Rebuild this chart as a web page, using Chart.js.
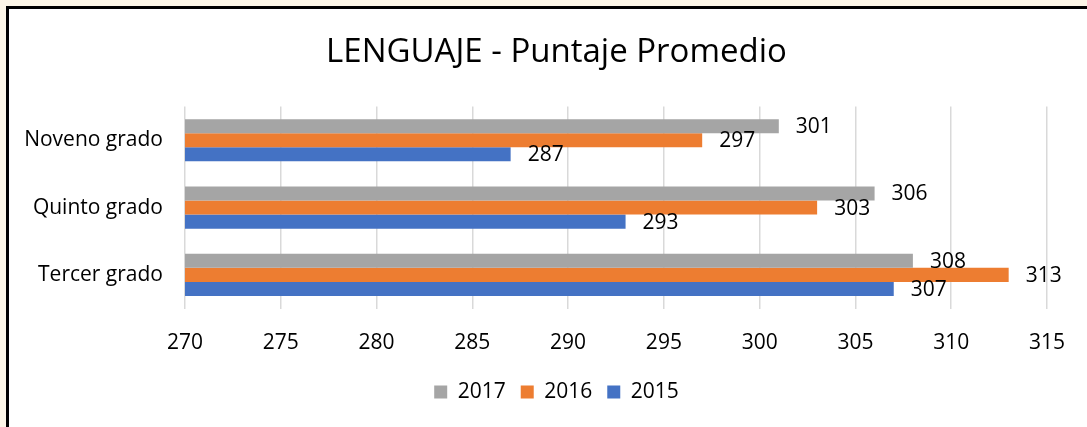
<!DOCTYPE html>
<html>
<head>
<meta charset="utf-8">
<script src="https://cdn.jsdelivr.net/npm/chart.js@4"></script>
<style>
  html, body { margin: 0; padding: 0; background: #fdf6e7; }
  #frame {
    position: absolute; left: 6px; top: 6px; width: 1081px; height: 421px;
    border-left: 3px solid #000; border-top: 3px solid #000; background: #fff;
    box-sizing: border-box;
  }
  #wrap { position: absolute; left: 0; top: 0; width: 1078px; height: 418px; }
</style>
</head>
<body>
<div id="frame"><div id="wrap"><canvas id="lenguaje"></canvas></div></div>
<script>
const grados = ['Noveno grado', 'Quinto grado', 'Tercer grado'];
const anios = ['2017', '2016', '2015'];
const puntaje2017 = [301, 306, 308];
const puntaje2016 = [297, 303, 313];
const puntaje2015 = [287, 293, 307];
const colores = ['rgb(165, 165, 165)', 'rgb(237, 125, 49)', 'rgb(68, 114, 196)'];

const fuente = "'Open Sans', sans-serif";

// valores al final de cada barra
const etiquetasValor = {
    id: 'etiquetasValor',
    afterDatasetsDraw(chart) {
        const ctx = chart.ctx;
        ctx.save();
        ctx.font = '21px ' + fuente;
        ctx.fillStyle = '#000';
        ctx.textAlign = 'left';
        ctx.textBaseline = 'middle';
        chart.data.datasets.forEach((ds, i) => {
            chart.getDatasetMeta(i).data.forEach((bar, j) => {
                ctx.fillText(ds.data[j], bar.x + 17, bar.y + 1);
            });
        });
        ctx.restore();
    }
};

const ctxLenguaje = document.getElementById('lenguaje');

const dataLenguaje = {
    labels: grados,
    datasets: [
        { label: anios[0], data: puntaje2017, backgroundColor: colores[0] },
        { label: anios[1], data: puntaje2016, backgroundColor: colores[1] },
        { label: anios[2], data: puntaje2015, backgroundColor: colores[2] }
    ]
};

const configLenguaje = {
    type: 'bar',
    data: dataLenguaje,
    plugins: [etiquetasValor],
    options: {
        indexAxis: 'y',
        responsive: true,
        maintainAspectRatio: false,
        animation: false,
        categoryPercentage: 0.627,
        barPercentage: 1,
        layout: { padding: { left: 17, right: 0, top: 0, bottom: 14.5 } },
        plugins: {
            title: {
                display: true,
                text: 'LENGUAJE - Puntaje Promedio',
                color: '#000',
                font: { family: fuente, size: 33, weight: 'normal' },
                padding: { top: 24, bottom: 34 }
            },
            legend: {
                position: 'bottom',
                labels: {
                    color: '#000',
                    boxWidth: 13,
                    boxHeight: 13,
                    padding: 15,
                    font: { family: fuente, size: 21 }
                }
            },
            tooltip: { enabled: false }
        },
        scales: {
            x: {
                min: 270,
                max: 315,
                ticks: { stepSize: 5, color: '#000', padding: 22, font: { family: fuente, size: 21 } },
                grid: { color: '#d9d9d9', lineWidth: 1.5, drawTicks: false },
                border: { display: false },
                afterFit(axis) { axis.height = 58; }
            },
            y: {
                ticks: { color: '#000', padding: 14, font: { family: fuente, size: 21 } },
                grid: { display: false },
                border: { display: false },
                afterFit(axis) { axis.width = 159; }
            },
            margenDerecho: {
                axis: 'y',
                type: 'linear',
                position: 'right',
                ticks: { display: false },
                grid: { display: false },
                border: { display: false },
                afterFit(axis) { axis.width = 36; }
            }
        }
    }
};

const chartLenguaje = new Chart(ctxLenguaje, configLenguaje);
</script>
</body>
</html>
